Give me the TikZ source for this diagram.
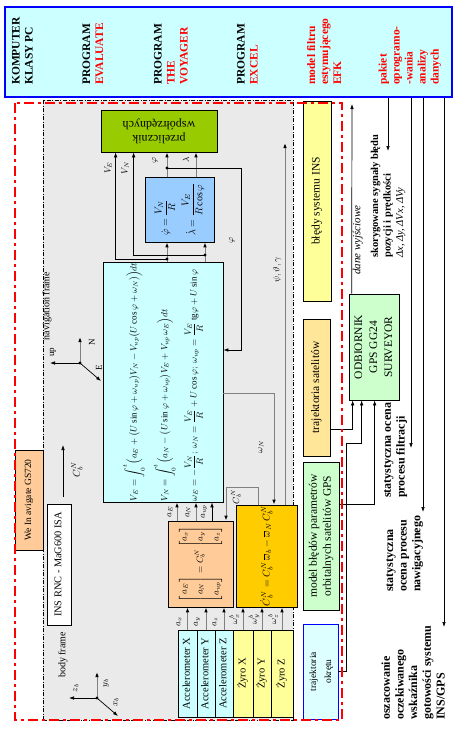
\documentclass[tikz,border=0pt]{standalone}
\usepackage{amsmath}
\usepackage{fontspec}
\setmainfont{Liberation Serif}
\usetikzlibrary{arrows.meta}
\definecolor{pcfill}{RGB}{204,255,255}
\definecolor{pcblue}{RGB}{0,0,255}
\definecolor{przelfill}{RGB}{153,204,0}
\definecolor{wspfill}{RGB}{153,204,255}
\definecolor{rownfill}{RGB}{204,255,255}
\definecolor{macfill}{RGB}{255,204,153}
\definecolor{goldfill}{RGB}{255,204,0}
\definecolor{gyrofill}{RGB}{255,255,153}
\definecolor{satfill}{RGB}{255,230,153}
\definecolor{gpsfill}{RGB}{204,255,204}
\definecolor{okrfill}{RGB}{221,255,255}
\definecolor{panelfill}{RGB}{234,234,234}
\newcommand{\vlab}[1]{\rotatebox{90}{\begin{tabular}{@{}c@{}}#1\end{tabular}}}
\newcommand{\vlabl}[1]{\rotatebox{90}{\begin{tabular}{@{}l@{}}#1\end{tabular}}}
\tikzset{
  box/.style={draw, line width=0.7pt, inner sep=0pt, align=center},
  title/.style={anchor=south, inner sep=0pt,
    font=\bfseries\fontsize{11.5}{13}\selectfont},
  note/.style={anchor=south, inner sep=0pt,
    font=\bfseries\fontsize{12}{13.7}\selectfont},
  lbl/.style={rotate=90, inner sep=0.5pt, font=\fontsize{9}{10}\selectfont},
  con/.style={draw=black, line width=0.7pt, -{Latex[length=5pt,width=3.6pt]}},
  gcon/.style={draw=gray, line width=1pt, -{Latex[length=5pt,width=3.6pt,color=black]}},
  redframe/.style={draw=red, line width=2.8pt,
    dash pattern=on 10pt off 4pt on 3pt off 4pt}
}
\begin{document}
\begin{tikzpicture}[x=1pt,y=-1pt]
\useasboundingbox (0,0) rectangle (463,731);
% panel with the INS part
\node[draw, fill=panelfill, line width=0.6pt, inner sep=0pt,
  dash pattern=on 4pt off 1.5pt on 1pt off 1.5pt,
  minimum width=250pt, minimum height=620pt] (panel) at (168,410) {};
% PC programs
\node[draw=pcblue, fill=pcfill, line width=1.2pt, inner sep=0pt,
  minimum width=447pt, minimum height=90pt] (pc) at (228.5,52) {};
\node[title] (komp) at (23.5,85) {\vlabl{KOMPUTER\\KLASY PC}};
\node[title] (eval) at (94,85) {\vlabl{PROGRAM\\\textcolor{red}{EVALUATE}}};
\node[title] (voy) at (172,85) {\vlabl{PROGRAM\\\textcolor{red}{THE}\\\textcolor{red}{VOYAGER}}};
\node[title] (excel) at (248.5,85) {\vlabl{PROGRAM\\\textcolor{red}{EXCEL}}};
\node[title, text=red] (efk) at (325.5,85) {\vlabl{model filtru\\estymującego\\EFK}};
\node[title, text=red] (pak) at (410,85) {\vlabl{pakiet\\oprogramo-\\-wania\\analizy\\danych}};
% INS blocks
\node[box, fill=przelfill, minimum width=116pt, minimum height=42pt,
  font=\fontsize{12}{14}\selectfont] (przel) at (159,131)
  {\rotatebox{180}{\begin{tabular}{@{}c@{}}przelicznik\\współrzędnych\end{tabular}}};
\node[box, fill=wspfill, minimum width=69pt, minimum height=65pt,
  font=\fontsize{10}{12}\selectfont] (wsp) at (179.5,209.5)
  {\rotatebox{90}{$\begin{array}{@{}l@{}}\dot\varphi=\dfrac{V_N}{R}\\[10pt]
   \dot\lambda=\dfrac{V_E}{R\cos\varphi}\end{array}$}};
\node[box, fill=rownfill, minimum width=120pt, minimum height=240pt,
  font=\fontsize{9}{11}\selectfont] (rown) at (163,382)
  {\rotatebox{90}{$\begin{array}{@{}l@{}}
   V_E=\displaystyle\int_0^t\!\Big(a_E+\big(U\sin\varphi+\omega_{up}\big)V_N-V_{up}\big(U\cos\varphi+\omega_N\big)\Big)dt\\[14pt]
   V_N=\displaystyle\int_0^t\!\Big(a_N-\big(U\sin\varphi+\omega_{up}\big)V_E+V_{up}\,\omega_E\Big)dt\\[14pt]
   \omega_E=-\dfrac{V_N}{R};\ \omega_N=\dfrac{V_E}{R}+U\cos\varphi;\
   \omega_{up}=\dfrac{V_E}{R}\,\mathrm{tg}\varphi+U\sin\varphi
   \end{array}$}};
\node[box, fill=macfill, minimum width=65pt, minimum height=86pt,
  font=\fontsize{9}{11}\selectfont] (macA) at (200.5,564)
  {\rotatebox{90}{$\begin{bmatrix}a_E\\[5pt]a_N\\[5pt]a_{up}\end{bmatrix}
   =C_b^N\begin{bmatrix}a_x\\[5pt]a_y\\[5pt]a_z\end{bmatrix}$}};
\node[box, fill=goldfill, minimum width=61pt, minimum height=102pt,
  font=\fontsize{10}{12}\selectfont] (macC) at (266.5,556)
  {\rotatebox{90}{$\dot C_b^N=C_b^N\,\overline{\omega}_b-\overline{\omega}_N\,C_b^N$}};
% sensors
\node[box, fill=rownfill, minimum width=19pt, minimum height=87pt,
  font=\fontsize{10.5}{12}\selectfont] (accX) at (187.5,673.5) {\vlab{Accelerometer X}};
\node[box, fill=rownfill, minimum width=18pt, minimum height=87pt,
  font=\fontsize{10.5}{12}\selectfont] (accY) at (206,673.5) {\vlab{Accelerometer Y}};
\node[box, fill=rownfill, minimum width=18pt, minimum height=87pt,
  font=\fontsize{10.5}{12}\selectfont] (accZ) at (224,673.5) {\vlab{Accelerometer Z}};
\node[box, fill=gyrofill, minimum width=20pt, minimum height=87pt,
  font=\fontsize{10.5}{12}\selectfont] (gyroX) at (243,673.5) {\vlab{Żyro X}};
\node[box, fill=gyrofill, minimum width=18pt, minimum height=87pt,
  font=\fontsize{10.5}{12}\selectfont] (gyroY) at (262,673.5) {\vlab{Żyro Y}};
\node[box, fill=gyrofill, minimum width=22pt, minimum height=87pt,
  font=\fontsize{10.5}{12}\selectfont] (gyroZ) at (282,673.5) {\vlab{Żyro Z}};
\node[box, fill=white, minimum width=24pt, minimum height=121pt,
  font=\fontsize{10.3}{12}\selectfont] (ins) at (59,564.5) {\vlab{INS RNC - MaG600 ISA}};
\node[box, fill=macfill, minimum width=28pt, minimum height=100pt,
  font=\fontsize{9.5}{11}\selectfont] (wel) at (29,500) {\vlab{We In avigate GS720}};
% right column blocks
\node[box, fill=gyrofill, minimum width=28pt, minimum height=200pt,
  font=\fontsize{11.5}{13}\selectfont] (bledy) at (317,201) {\vlab{błędy systemu INS}};
\node[box, fill=satfill, minimum width=27pt, minimum height=137pt,
  font=\fontsize{11.5}{13}\selectfont] (trajsat) at (316.5,387.5) {\vlab{trajektoria satelitów}};
\node[box, fill=gpsfill, minimum width=36pt, minimum height=148pt,
  font=\fontsize{11.5}{14}\selectfont] (modgps) at (321,536)
  {\vlab{model błędów parametrów\\orbitalnych satelitów GPS}};
\node[box, draw=pcblue, fill=okrfill, minimum width=35pt, minimum height=95pt,
  font=\fontsize{9.5}{15}\selectfont] (okr) at (320.5,671.5) {\vlab{trajektoria\\okrętu}};
\node[box, fill=gpsfill, minimum width=50pt, minimum height=106pt,
  font=\fontsize{11.5}{15}\selectfont] (odb) at (374,347)
  {\vlab{ODBIORNIK\\GPS GG24\\SURVEYOR}};
% connector points
\coordinate (cVE) at (167,259);
\coordinate (cVN) at (205,255);
\coordinate (cPhi) at (167,168);
\coordinate (cLam) at (196,168);
\coordinate (cFb) at (241,350);
\coordinate (cOm) at (274,393);
\coordinate (cPsi) at (285,143);
\coordinate (cCb) at (258,487);
\coordinate (cCbl) at (226,487);
\coordinate (caE) at (177,515);
\coordinate (caN) at (196,515);
\coordinate (caU) at (212,515);
\coordinate (cOk) at (346,443);
\coordinate (cOut) at (352,104);
\coordinate (cCup) at (63,445);
\coordinate (e1) at (388,151);
\coordinate (e2) at (411,448);
\coordinate (e3) at (423,512);
\coordinate (e4) at (444,627);
% INS connectors
\draw[gcon] (cVE |- rown.north) -- (cVE |- wsp.south);
\draw[gcon] (cVN |- rown.north) -- (cVN |- wsp.south);
\draw[con] (cVE) -| ([xshift=15pt]przel.south west);
\draw[con] (cVN) -| ([xshift=33pt]przel.south west);
\draw[gcon] (cPhi |- wsp.north) -- (cPhi |- przel.south);
\draw[gcon] (cLam |- wsp.north) -- (cLam |- przel.south);
\draw[con] (cPhi) -| (cFb) -- (cFb -| rown.east);
\fill (cVE) circle[radius=1.6pt];
\fill (cVN) circle[radius=1.6pt];
\fill (cPhi) circle[radius=1.6pt];
\draw[gcon] (cOm -| rown.east) -| (cOm |- macC.north);
\draw[gcon] (cPsi |- macC.north) -- (cPsi);
\draw[gcon] (cCb |- macC.north) -- (cCb) -- (cCbl) -- (cCbl |- macA.north);
\draw[gcon] (caE |- macA.north) -- (caE |- rown.south);
\draw[gcon] (caN |- macA.north) -- (caN |- rown.south);
\draw[con] (caU |- macA.north) -- (caU |- rown.south);
\draw[gcon] (accX.north) -- (accX.north |- macA.south);
\draw[gcon] (accY.north) -- (accY.north |- macA.south);
\draw[gcon] (accZ.north) -- (accZ.north |- macA.south);
\draw[gcon] (gyroX.north) -- (gyroX.north |- macC.south);
\draw[gcon] (gyroY.north) -- (gyroY.north |- macC.south);
\draw[gcon] (gyroZ.north) -- (gyroZ.north |- macC.south);
\draw[con] ([xshift=4pt,yshift=7pt]ins.north) -- (cCup);
% labels on connectors
\node[lbl] at (108,168) {$V_E$};
\node[lbl] at (125,168) {$V_N$};
\node[lbl] at (155,160) {$\varphi$};
\node[lbl] at (186,160) {$\lambda$};
\node[lbl] at (232,240) {$\varphi$};
\node[lbl] at (277,270) {$\psi,\vartheta,\gamma$};
\node[lbl] at (261,447) {$\omega_N$};
\node[lbl] at (236,497) {$C_b^N$};
\node[lbl] at (170,512) {$a_E$};
\node[lbl] at (188,512) {$a_N$};
\node[lbl] at (204,512) {$a_{up}$};
\node[lbl] at (179,622) {$a_x$};
\node[lbl] at (197,622) {$a_y$};
\node[lbl] at (215,622) {$a_z$};
\node[lbl] at (234,619) {$\omega_x^b$};
\node[lbl] at (254,619) {$\omega_y^b$};
\node[lbl] at (273,619) {$\omega_z^b$};
\node[lbl, font=\fontsize{10}{11}\selectfont] at (77,470) {$C_b^N$};
% frames of axes
\node[lbl, font=\fontsize{10}{11}\selectfont] at (47,306) {navigation frame};
\coordinate (nav) at (80,363);
\draw[con] (nav) -- (50,363);
\draw[gcon] (nav) -- (80,337);
\draw[con] (nav) -- (101,381);
\node[lbl] at (53,352) {up};
\node[lbl] at (92,342) {N};
\node[lbl] at (99,368) {E};
\node[lbl, font=\fontsize{10}{11}\selectfont] at (63,655) {body frame};
\coordinate (body) at (97,698);
\draw[gcon] (body) -- (97,672);
\draw[con] (body) -- (69,698);
\draw[con] (body) -- (118,716);
\fill (nav) circle[radius=1.6pt];
\fill (body) circle[radius=1.6pt];
\node[lbl] at (106,683) {$y_b$};
\node[lbl] at (76,688) {$z_b$};
\node[lbl] at (116,702) {$x_b$};
% GPS connectors
\draw[con] ([yshift=-41.5pt]trajsat.east) -| ([xshift=4pt]odb.south west);
\draw[con] (okr.east) -| (cOk) -| ([xshift=13pt]odb.south west);
\draw[con] ([yshift=32pt]modgps.east) -| ([xshift=26pt]odb.south west);
\draw[con] ([xshift=3pt]odb.north west) -- (cOut);
\draw[con] (e1 |- pc.south) -- (e1);
\draw[con] (e2 |- pc.south) -- (e2);
\draw[con] (e3 |- pc.south) -- (e3);
\draw[con] (e4 |- pc.south) -- (e4);
% notes
\node[note, font=\itshape\fontsize{11}{12}\selectfont] (dane) at (358,275) {\vlabl{dane wyjściowe}};
\node[note, font=\bfseries\fontsize{10.5}{12.5}\selectfont] (skor) at (388,258)
  {\vlabl{skorygowane sygnały błędu\\pozycji i prędkości\\\mdseries\itshape Δx, Δy, ΔVx, ΔVy}};
\node[note] (filtr) at (395,498) {\vlabl{statystyczna ocena\\procesu filtracji}};
\node[note] (nawig) at (404,592) {\vlabl{statystyczna\\ocena procesu\\nawigacyjnego}};
\node[note] (gotow) at (414.5,720) {\vlabl{oszacowanie\\oczekiwanego\\wskaźnika\\gotowości systemu\\INS/GPS}};
% red frame
\draw[redframe] (15,103) rectangle (342,720);
\end{tikzpicture}
\end{document}
